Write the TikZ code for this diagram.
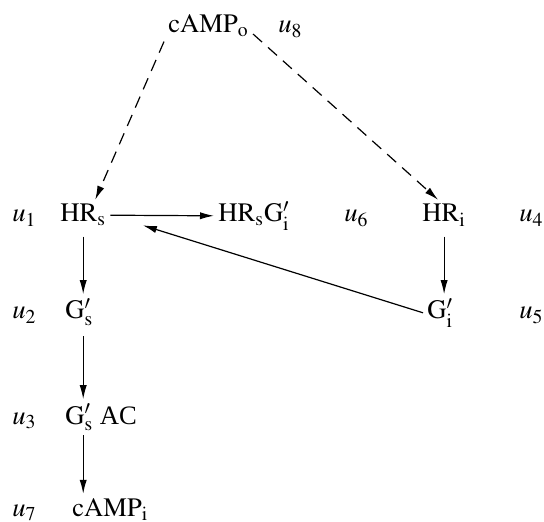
\documentclass[tikz,border=0pt]{standalone}
\usepackage{mathptmx}
\usepackage{fontspec}
\setmainfont{Liberation Serif}
\setmathrm{Liberation Serif}
\usetikzlibrary{arrows.meta}

\begin{document}
\begin{tikzpicture}[
  x=0.5pt,
  y=-0.5pt,
  term/.style={
      inner sep=2pt,
      anchor=base west,
      font=\fontsize{13.3}{15}\selectfont
  },
  var/.style={
      term
  },
  arrow/.style={
      -{Latex[length=7pt,width=3.6pt]},
      line width=0.6pt
  },
  feedback/.style={
      arrow,
      dash pattern=on 6pt off 4pt
  }
]

\useasboundingbox (0,0) rectangle (544,522);

% ==================================================
% Top : external cAMP
% ==================================================

\node[term] (campo) at (164,33) {$\mathrm{cAMP_o}$};
\node[var]  (u8)    at (274,33) {$u_8$};

% ==================================================
% Receptor row
% ==================================================

\node[var]  (u1)    at (8,222)   {$u_1$};
\node[term] (hrs)   at (56,222)  {$\mathrm{HR_s}$};
\node[term] (hrsgi) at (214,222) {$\mathrm{HR_sG'_i}$};
\node[var]  (u6)    at (340,222) {$u_6$};
\node[term] (hri)   at (418,222) {$\mathrm{HR_i}$};
\node[var]  (u4)    at (515,222) {$u_4$};

% ==================================================
% G proteins
% ==================================================

\node[var]  (u2)    at (8,319)   {$u_2$};
\node[term] (gs)    at (61,319)  {$\mathrm{G'_s}$};
\node[term] (gi)    at (423,319) {$\mathrm{G'_i}$};
\node[var]  (u5)    at (515,319) {$u_5$};

% ==================================================
% Left column
% ==================================================

\node[var]  (u3)    at (8,424)   {$u_3$};
\node[term] (gsac)  at (61,424)  {$\mathrm{G'_s}$ AC};

\node[var]  (u7)    at (8,516)   {$u_7$};
\node[term] (campi) at (68,516)  {$\mathrm{cAMP_i}$};

% ==================================================
% Connections
% ==================================================

\draw[feedback]
(campo.south west)
-- ([xshift=6pt]hrs.north);

\draw[feedback]
(campo.-10)
-- ([xshift=-3pt]hri.north);

\draw[arrow]
(hrs.east)
-- (hrsgi.west);

\draw[arrow, shorten >=17pt]
(gi.west)
-- (hrs.east);

\draw[arrow, shorten <=3pt]
(hrs.south)
-- (hrs.south |- gs.north);

\draw[arrow, shorten <=3pt]
(hrs.south |- gs.south)
-- (hrs.south |- gsac.north);

\draw[arrow]
(hrs.south |- gsac.south)
-- (hrs.south |- campi.north);

\draw[arrow, shorten <=3pt]
(hri.south)
-- (hri.south |- gi.north);

\end{tikzpicture}
\end{document}
